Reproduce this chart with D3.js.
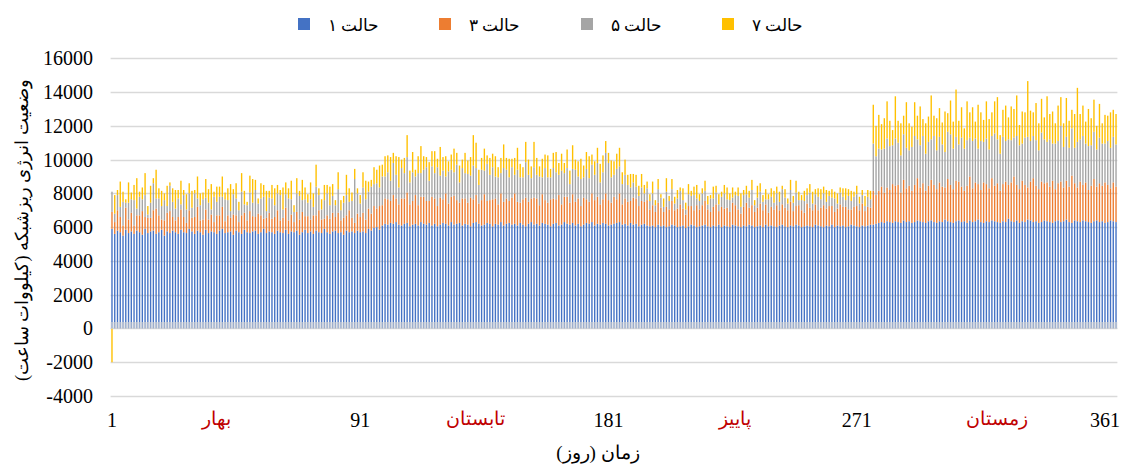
<!DOCTYPE html>
<html>
<head>
<meta charset="utf-8">
<script src="https://cdn.jsdelivr.net/npm/d3@7"></script>
<style>
  body { margin: 0; background: #fff; font-family: "Liberation Serif", serif; }
  svg { display: block; }
</style>
</head>
<body>
<div id="chart"></div>
<script>
// legend / series
const seriesNames = ["حالت ۱", "حالت ۳", "حالت ۵", "حالت ۷"];
const seriesColors = ["#4472C4", "#ED7D31", "#A5A5A5", "#FFC000"];

// axes
const yTicks = [-4000, -2000, 0, 2000, 4000, 6000, 8000, 10000, 12000, 14000, 16000];
const xTickDays = [1, 91, 181, 271, 361];
const seasons = ["بهار", "تابستان", "پاییز", "زمستان"];
const seasonDays = [39, 133, 227, 322];

// daily values (kWh), days 1..365
const state1 = [
  // spring
  5900,5600,5800,5700,5500,5850,5650,5750,5600,5800,5700,5550,5900,5650,5750,5800,5600,5700,5850,5500,5750,5650,5800,5700,5600,5850,5700,5650,5900,5750,
  5600,5800,5700,5550,5850,5650,5750,5700,5600,5800,5900,5650,5700,5750,5550,5800,5700,5600,5850,5700,5650,5750,5800,5600,5700,5900,5650,5750,5700,5600,
  5800,5700,5650,5850,5600,5750,5700,5800,5550,5700,5850,5650,5750,5600,5800,5700,5650,5900,5700,5600,5750,5800,5650,5700,5550,5800,5700,5750,5650,5800,
  5700,5750,5650,5900,5800,5950,6000,5850,6100,6200,
  // summer
  6150,6250,6200,6300,6150,6100,6200,6250,6050,6150,6200,6100,6300,6200,6150,6250,6100,6200,6050,6150,
  6250,6200,6100,6300,6150,6200,6250,6100,6200,6150,6050,6250,6300,6200,6100,6150,6250,6200,6050,6200,
  6150,6300,6100,6200,6250,6150,6200,6100,6250,6150,6050,6200,6300,6150,6200,6100,6250,6200,6150,6050,
  6200,6250,6100,6150,6300,6200,6150,6250,6100,6200,6050,6150,6250,6200,6300,6100,6200,6150,6250,6200,
  6100,6150,6200,6250,6300,6150,6200,6100,6250,6150,6200,6050,6150,6200,6100,
  // autumn
  6050,6100,6000,6150,6050,6100,6000,6050,6150,6100,6000,6050,6100,5950,6050,6150,6100,6000,6050,6100,
  6150,6050,6000,6100,6050,6150,6000,6100,6050,6000,6150,6100,6050,6000,6100,6050,6150,6100,6000,6050,
  6100,6000,6150,6050,6100,6050,6000,6100,6150,6050,6000,6100,6050,6150,6100,6000,6050,6100,6050,6000,
  6150,6100,6050,6000,6100,6050,6150,6000,6100,6050,6100,6000,6050,6150,6100,6050,6000,6100,6050,6100,
  6150,
  // winter
  6150,6200,6250,6300,6250,6350,6300,6250,6350,6300,6250,6400,6300,6350,6250,6300,6400,6350,6300,6250,
  6350,6400,6300,6250,6350,6300,6450,6350,6300,6250,6350,6400,6300,6350,6250,6400,6300,6350,6450,6300,
  6250,6350,6300,6400,6350,6300,6250,6350,6300,6500,6350,6300,6400,6250,6350,6300,6450,6400,6300,6350,
  6250,6300,6400,6350,6300,6250,6350,6400,6300,6350,6450,6300,6250,6400,6350,6300,6400,6350,6300,6250,
  6350,6400,6300,6350,6250,6300,6400,6350,6300
];

const state3 = [
  1000,700,1200,900,600,1300,800,1100,500,900,1000,1400,700,900,800,1200,1500,1000,600,900,
  1100,1300,800,700,1000,1200,900,600,1100,800,1000,1400,700,900,1200,800,1000,600,1100,900,
  1300,700,1000,800,1200,900,600,1100,1000,700,1300,900,800,1200,1000,600,900,1100,800,1000,
  1200,700,900,1300,800,1000,600,1100,900,1200,800,1000,700,1100,900,1300,800,600,1000,900,
  1100,800,1200,700,1000,900,1300,800,600,1000,
  900,1100,800,1200,1000,1300,1100,1400,1200,1500,
  1500,1300,1700,1400,1200,1600,1500,1800,1300,1400,1700,1200,1500,1600,1400,1300,1700,1500,1200,1600,
  1400,1800,1300,1500,1700,1400,1200,1600,1500,1300,1700,1400,1600,1200,1500,1800,1300,1400,1600,1500,
  1200,1700,1400,1500,1300,1600,1800,1400,1200,1500,1700,1300,1400,1600,1500,1200,1700,1400,1300,1600,
  1500,1400,1800,1200,1500,1600,1300,1700,1400,1500,1200,1600,1400,1300,1700,1500,1600,1200,1400,1800,
  1500,1300,1600,1400,1700,1200,1500,1400,1300,1600,1500,1200,1400,1300,1500,
  1000,1200,900,1300,1100,800,1200,1000,1400,900,1100,1300,1000,800,1200,1100,900,1300,1000,1200,
  1400,1000,900,1100,1300,800,1200,1000,1100,900,1300,1200,1000,800,1100,1400,1000,1200,900,1100,
  1300,1000,1200,800,1100,1000,1300,900,1200,1100,1000,1400,900,1100,1200,1000,800,1300,1100,1000,
  1200,900,1100,1300,1000,1200,1100,900,1000,1300,1100,1200,1000,900,1100,1200,1000,1300,900,1100,
  1000,
  2000,1700,1900,2100,1800,2000,1900,2300,2100,2200,1800,2400,2000,2100,1900,2200,2500,2000,2300,1900,
  2100,2400,2200,2000,2300,2100,1900,2500,2200,2000,2400,2300,2100,1800,2200,2600,2000,2300,2100,1900,
  2400,2200,2000,2500,2100,2300,1900,2200,2400,2000,2300,2700,2100,2000,2400,2200,1900,2300,2600,2100,
  2000,2400,2200,2300,2100,2500,1900,2200,2400,2000,2300,2100,2800,2200,2000,2400,2100,2300,1900,2200,
  2500,2000,2300,2100,2400,2200,1900,2300,2100
];

const state5 = [
  1200,500,900,600,1400,300,1000,800,1500,400,1100,700,1300,200,900,1600,600,1000,800,1200,
  400,1500,900,700,1100,300,1300,800,1000,600,1400,500,900,1200,700,1000,300,1500,800,1100,
  600,1300,900,400,1200,1000,700,1400,500,900,1100,800,1600,600,1000,1300,400,900,1200,700,
  1000,1500,500,800,1300,900,600,1100,1400,700,1000,800,1200,500,1700,900,600,1100,1300,800,
  1000,700,1400,600,900,1200,500,1000,2600,1200,
  800,1500,1200,1000,1600,1300,1500,1100,1700,1300,
  1600,1200,1900,1400,1000,1800,1500,2100,1300,1700,1100,1900,1400,1600,2000,1200,1800,1500,2300,1300,
  1700,1000,1900,1600,1400,2100,1200,1800,1500,1700,1300,2000,1600,1100,1800,1400,2200,1500,1900,1300,
  1600,1200,2000,1700,1400,1800,1100,1900,1500,1300,2100,1600,1200,1800,1400,1700,1000,1900,1500,1300,
  1800,1600,1200,2000,1400,1700,1100,1500,1900,1300,1600,1200,1800,1400,1700,1500,2000,1300,1600,2400,
  2200,1500,1300,1800,1600,1200,1400,1000,800,900,700,600,800,500,700,
  500,700,400,800,600,300,900,500,700,400,600,800,500,300,700,600,900,400,500,700,
  600,300,800,500,700,400,600,900,500,700,300,600,800,400,700,500,600,900,400,600,
  700,500,300,800,600,400,700,500,900,600,400,700,500,800,300,600,700,500,900,400,
  600,800,500,700,400,600,500,800,300,700,600,400,800,500,600,700,400,500,300,600,
  500,
  2800,2300,2500,2200,2600,2900,2600,2300,2800,2500,2200,2700,2400,2100,2600,2900,2300,2500,2800,2200,
  2600,2400,2900,2300,2700,2500,2100,2800,3000,2400,2600,2200,2900,2500,2700,2300,2800,2600,2100,2900,
  2400,2700,2300,2500,3100,2600,2200,2800,2400,2700,2500,2300,2900,2600,2200,2800,3000,2400,2500,2700,
  2300,2900,2600,2400,2800,2200,2700,2500,3300,2400,2600,2300,2800,2100,2700,2500,2900,2300,2600,2400,
  2800,2200,2700,2500,2300,2600,2400,2700,2500
];

const state7 = [
  -2000,1100,300,1500,600,200,1200,400,900,1800,300,700,1300,500,1000,300,1700,600,900,400,
  1200,200,800,1100,500,1400,300,900,600,1000,200,1300,700,400,1100,800,1500,300,900,600,
  1200,400,700,1600,300,900,500,1100,800,200,1000,1400,600,300,900,700,1200,400,800,1000,
  500,300,1300,700,600,1100,400,900,300,1200,700,500,1000,800,1300,400,600,900,500,1100,
  700,300,1000,600,400,1200,800,500,600,300,
  500,900,1100,600,400,1000,800,1300,700,1200,
  1000,1400,600,1100,1800,500,900,1300,700,1200,400,1000,1600,800,600,1100,900,1300,500,1700,
  800,1200,600,900,1400,700,1000,500,1200,800,1100,1800,1500,900,700,1300,500,1000,800,1200,
  600,900,1400,700,1100,500,1000,1300,800,600,1200,900,700,1500,1000,600,1100,800,1300,500,
  900,1200,700,1000,600,1100,800,1400,600,900,1200,700,1000,1300,600,800,900,1100,1000,700,
  600,1000,800,900,1100,700,900,600,800,500,700,600,800,500,400,
  400,700,300,600,200,500,800,300,600,400,500,200,700,400,600,300,500,800,400,300,
  600,500,200,700,400,600,300,500,700,400,600,200,500,800,300,500,400,600,300,700,
  500,400,600,300,500,700,400,600,200,500,300,600,400,700,500,300,600,400,500,700,
  300,500,600,400,700,300,500,400,600,300,500,700,400,600,300,500,400,300,600,400,
  500,
  2300,1800,2000,1500,1800,2200,1500,900,2500,1300,1900,1100,2700,1600,1200,2000,1400,2300,1000,1800,
  1500,2600,1200,1900,1700,1300,2400,1100,2000,1600,2800,1400,1800,1200,2300,1500,2000,1000,2600,1700,
  1300,2200,1800,1400,1900,2500,1100,1600,2100,1300,2000,1700,2400,1200,1900,1500,3300,1800,1400,2200,
  1600,2000,1300,2700,1500,1900,1200,2100,1700,1400,2300,1600,1100,2000,3200,1500,1800,1300,2200,1600,
  1900,1400,2000,1200,1700,1500,2100,1600,1800
];

const width = 1122, height = 466;
const margin = { top: 58.3, right: 4.6, bottom: 70, left: 110.6 };
const fontFamily = "'Liberation Serif', 'Times New Roman', Times, serif";

const days = d3.range(1, state1.length + 1);
const table = days.map((d, i) => ({ day: d, s0: state1[i], s1: state3[i], s2: state5[i], s3: state7[i] }));
const keys = ["s0", "s1", "s2", "s3"];

const stack = d3.stack().keys(keys).offset(d3.stackOffsetDiverging);
const layers = stack(table);

const x = d3.scaleBand()
  .domain(days)
  .range([margin.left, width - margin.right])
  .paddingInner(0.5)
  .paddingOuter(0.25);

const y = d3.scaleLinear()
  .domain([-4000, 16000])
  .range([396, margin.top]);

const svg = d3.select("#chart").append("svg")
  .attr("width", width)
  .attr("height", height)
  .attr("font-family", fontFamily)
  .style("font-family", fontFamily);

// gridlines
svg.append("g")
  .selectAll("line")
  .data(yTicks)
  .enter().append("line")
  .attr("x1", margin.left)
  .attr("x2", width - margin.right)
  .attr("y1", d => Math.round(y(d)) + 0.5)
  .attr("y2", d => Math.round(y(d)) + 0.5)
  .attr("stroke", "#d9d9d9")
  .attr("stroke-width", 1.5);

// bars
svg.append("g")
  .selectAll("g")
  .data(layers)
  .enter().append("g")
  .attr("fill", (d, i) => seriesColors[i])
  .selectAll("rect")
  .data(d => d)
  .enter().append("rect")
  .attr("x", d => x(d.data.day))
  .attr("width", x.bandwidth())
  .attr("y", d => y(Math.max(d[0], d[1])))
  .attr("height", d => Math.abs(y(d[0]) - y(d[1])));

// horizontal axis band at zero
svg.append("line")
  .attr("x1", margin.left)
  .attr("x2", width - margin.right)
  .attr("y1", y(0) - 3)
  .attr("y2", y(0) - 3)
  .attr("stroke", "#d6d6d6")
  .attr("stroke-opacity", 0.6)
  .attr("stroke-width", 7);

// y tick labels
svg.append("g")
  .selectAll("text")
  .data(yTicks)
  .enter().append("text")
  .attr("x", 93)
  .attr("y", d => y(d))
  .attr("dy", "0.35em")
  .attr("text-anchor", "end")
  .style("font-size", "20px")
  .text(d => d);

// x tick labels
svg.append("g")
  .selectAll("text")
  .data(xTickDays)
  .enter().append("text")
  .attr("x", d => x(d) + x.bandwidth() / 2)
  .attr("y", 420)
  .attr("dy", "0.35em")
  .attr("text-anchor", "middle")
  .style("font-size", "20px")
  .text(d => d);

// season labels
svg.append("g")
  .selectAll("text")
  .data(seasons)
  .enter().append("text")
  .attr("x", (d, i) => x(seasonDays[i]))
  .attr("y", 418)
  .attr("dy", "0.35em")
  .attr("text-anchor", "middle")
  .style("font-size", "19px")
  .style("fill", "#C00000")
  .text(d => d);

// axis titles
svg.append("text")
  .attr("x", 598)
  .attr("y", 452)
  .attr("dy", "0.35em")
  .attr("text-anchor", "middle")
  .style("font-size", "19px")
  .text("زمان (روز)");

svg.append("text")
  .attr("transform", "translate(22,230) rotate(-90)")
  .attr("dy", "0.35em")
  .attr("text-anchor", "middle")
  .style("font-size", "18px")
  .text("وضعیت انرژی ریزشبکه (کیلووات ساعت)");

// legend
const legendX = [298, 439, 581, 722];
const legendItem = svg.append("g")
  .selectAll("g")
  .data(seriesNames)
  .enter().append("g")
  .attr("transform", (d, i) => `translate(${legendX[i]},18)`);

legendItem.append("rect")
  .attr("width", 12)
  .attr("height", 12)
  .attr("fill", (d, i) => seriesColors[i]);

legendItem.append("text")
  .attr("x", 30)
  .attr("y", 7)
  .attr("dy", "0.35em")
  .style("font-size", "17px")
  .text(d => d);
</script>
</body>
</html>
